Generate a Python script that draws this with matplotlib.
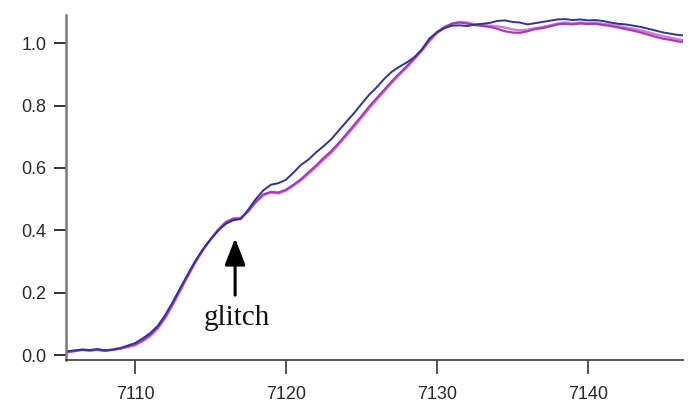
import numpy as np
import matplotlib
matplotlib.use("Agg")
import matplotlib.pyplot as plt

# энергия, эВ (шаг 0.5)
energy = np.arange(7105.5, 7147.0, 0.5)

blue = [0.012, 0.015, 0.017, 0.016, 0.019, 0.015, 0.017, 0.022, 0.030, 0.038,
        0.053, 0.070, 0.093, 0.128, 0.170, 0.215, 0.259, 0.302, 0.339, 0.370,
        0.398, 0.420, 0.432, 0.436, 0.466, 0.500, 0.528, 0.546, 0.551, 0.562,
        0.585, 0.610, 0.627, 0.650, 0.670, 0.692, 0.720, 0.748, 0.775, 0.805,
        0.834, 0.858, 0.885, 0.908, 0.924, 0.938, 0.955, 0.980, 1.015, 1.035,
        1.048, 1.056, 1.057, 1.055, 1.059, 1.062, 1.065, 1.071, 1.073, 1.068,
        1.066, 1.060, 1.064, 1.068, 1.072, 1.076, 1.077, 1.074, 1.076, 1.073,
        1.074, 1.071, 1.066, 1.062, 1.060, 1.056, 1.052, 1.046, 1.040, 1.034,
        1.030, 1.026, 1.024]

magenta = [0.010, 0.013, 0.016, 0.014, 0.017, 0.014, 0.016, 0.020, 0.027, 0.034,
           0.047, 0.064, 0.088, 0.122, 0.165, 0.211, 0.256, 0.300, 0.338, 0.371,
           0.401, 0.425, 0.436, 0.437, 0.462, 0.492, 0.515, 0.523, 0.521, 0.530,
           0.546, 0.564, 0.586, 0.608, 0.632, 0.654, 0.680, 0.708, 0.737, 0.766,
           0.796, 0.823, 0.850, 0.877, 0.902, 0.926, 0.952, 0.978, 1.010, 1.035,
           1.052, 1.062, 1.066, 1.063, 1.058, 1.055, 1.052, 1.046, 1.038, 1.034,
           1.033, 1.038, 1.045, 1.048, 1.054, 1.060, 1.062, 1.060, 1.063, 1.061,
           1.062, 1.058, 1.055, 1.050, 1.045, 1.040, 1.034, 1.027, 1.020, 1.014,
           1.010, 1.005, 1.003]

pink = [0.008, 0.012, 0.018, 0.015, 0.016, 0.013, 0.018, 0.021, 0.025, 0.031,
        0.044, 0.060, 0.084, 0.118, 0.160, 0.206, 0.252, 0.296, 0.336, 0.370,
        0.401, 0.426, 0.438, 0.440, 0.460, 0.489, 0.512, 0.521, 0.518, 0.527,
        0.543, 0.560, 0.581, 0.603, 0.626, 0.648, 0.675, 0.703, 0.731, 0.760,
        0.790, 0.818, 0.845, 0.872, 0.898, 0.922, 0.948, 0.975, 1.006, 1.032,
        1.050, 1.063, 1.068, 1.066, 1.061, 1.058, 1.056, 1.054, 1.050, 1.044,
        1.041, 1.043, 1.048, 1.052, 1.057, 1.063, 1.066, 1.063, 1.066, 1.064,
        1.066, 1.062, 1.059, 1.055, 1.050, 1.046, 1.041, 1.035, 1.028, 1.022,
        1.017, 1.012, 1.008]

x_ticks = [7110, 7120, 7130, 7140]
y_ticks = [0.0, 0.2, 0.4, 0.6, 0.8, 1.0]

plt.rcParams["font.family"] = ["Liberation Sans", "DejaVu Sans"]
fig = plt.figure(figsize=(6.97, 4.07), dpi=100)
ax = fig.add_axes([0.0947, 0.1155, 0.8853, 0.8475])

ax.plot(energy, pink, color="#d27ad4", lw=1.7)
ax.plot(energy, magenta, color="#a63cb4", lw=1.6)
ax.plot(energy, blue, color="#303496", lw=1.4)

ax.set_xlim(7105.43, 7146.3)
ax.set_ylim(-0.016, 1.09)
ax.set_xticks(x_ticks)
ax.set_yticks(y_ticks)
ax.set_yticklabels(["%.1f" % t for t in y_ticks])

ax.spines["top"].set_visible(False)
ax.spines["right"].set_visible(False)
ax.spines["left"].set_color("#7a7a7a")
ax.spines["left"].set_linewidth(1.8)
ax.spines["bottom"].set_color("#444444")
ax.spines["bottom"].set_linewidth(1.3)
ax.tick_params(axis="y", direction="out", length=9, width=1.3, color="#222222",
               pad=5, labelsize=13, labelcolor="#2a2a2a")
ax.tick_params(axis="x", direction="out", length=10, width=1.3, color="#444444",
               pad=9, labelsize=13, labelcolor="#2a2a2a")

# стрелка и подпись "glitch"
ax.annotate("", xy=(7116.63, 0.374), xytext=(7116.63, 0.192),
            arrowprops=dict(arrowstyle="-|>,head_length=0.9,head_width=0.35",
                            lw=2.2, color="black", shrinkA=0, shrinkB=0,
                            mutation_scale=18))
ax.text(7116.76, 0.096, "glitch", family=["Liberation Serif", "DejaVu Serif"],
        fontsize=21, ha="center", va="baseline", color="#111111")

fig.savefig("out.png", dpi=100)
